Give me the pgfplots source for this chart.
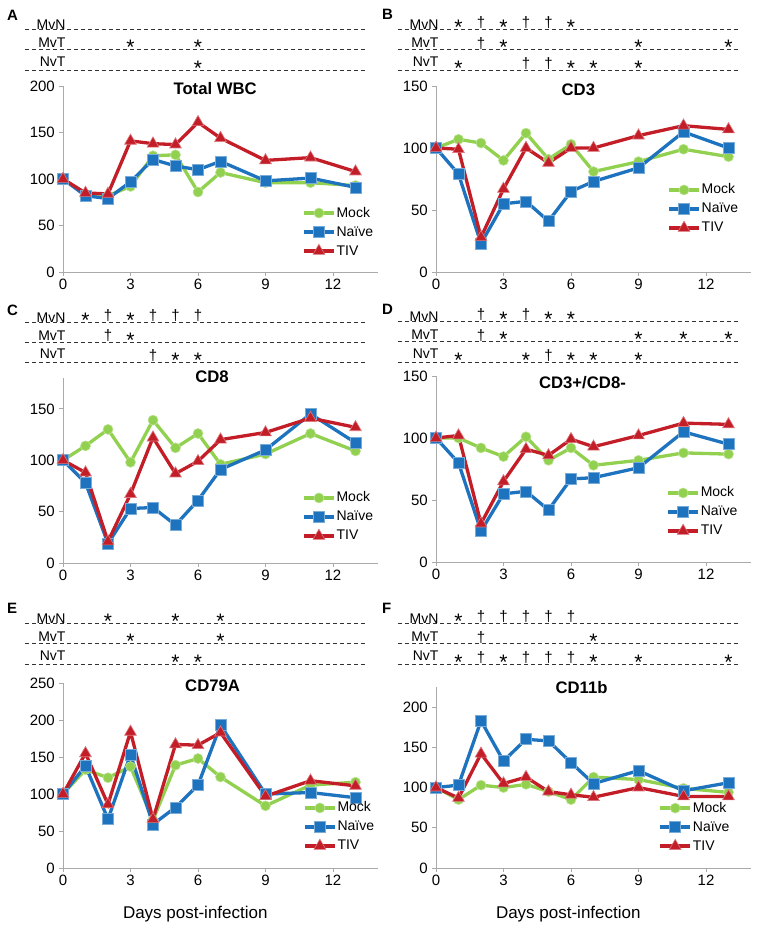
\documentclass[border=0pt]{standalone}
\usepackage{fontspec}
\setmainfont{Liberation Sans}
\usepackage{pgfplots}
\pgfplotsset{compat=1.18}
\usepackage{pgfplotstable}

\definecolor{cmock}{RGB}{146,208,80}
\definecolor{cnaive}{RGB}{30,115,190}
\definecolor{ctiv}{RGB}{195,30,40}
\definecolor{axgray}{RGB}{170,170,170}
\newcommand\fs[1]{\fontsize{#1bp}{#1bp}\selectfont}

\pgfplotstableread{
d m n t
0 100 100 100
1 84 82 85
2 82 79 84
3 92 97 141
4 125 121 138
5 126 114 137
6 86 110 161
7 107 119 144
9 96 98 120
11 96 101 123
13 93 91 108
}\tA
\pgfplotstableread{
d m n t
0 100 100 100
1 107 79 99
2 104 23 28
3 90 55 67
4 112 57 100
5 91 41 88
6 103 65 100
7 81 73 100
9 89 84 110
11 99 113 118
13 93 100 115
}\tB
\pgfplotstableread{
d m n t
0 100 100 100
1 114 78 88
2 130 19 21
3 98 53 67
4 139 54 122
5 112 37 87
6 126 61 99
7 96 91 120
9 106 110 127
11 126 145 141
13 109 117 132
}\tC
\pgfplotstableread{
d m n t
0 100 100 100
1 100 80 102
2 92 25 31
3 85 55 65
4 101 57 91
5 82 42 86
6 92 67 99
7 78 68 93
9 82 76 102
11 88 105 112
13 87 95 111
}\tD
\pgfplotstableread{
d m n t
0 100 100 100
1 133 138 155
2 122 66 86
3 137 153 184
4 65 59 66
5 139 82 167
6 148 112 166
7 123 193 183
9 84 100 97
11 112 102 118
13 116 95 111
}\tE
\pgfplotstableread{
d m n t
0 100 100 100
1 85 103 87
2 103 183 142
3 100 133 105
4 104 160 113
5 95 158 95
6 85 131 91
7 113 105 88
9 110 121 100
11 99 96 89
13 94 106 89
}\tF

\pgfplotsset{
 panel/.style={
  scale only axis, width=315bp, xmin=0, xmax=14, ymin=0,
  axis x line*=bottom, axis y line*=left,
  axis line style={draw=axgray, line width=0.9bp},
  tick style={draw=axgray, line width=0.9bp},
  tick align=outside, major tick length=4bp,
  xtick={0,3,6,9,12},
  tick label style={font=\fs{15}},
  /pgf/number format/assume math mode=true,
  xticklabel style={inner sep=0pt, anchor=north, yshift=-3bp},
  yticklabel style={inner sep=0pt, anchor=east, xshift=-4bp},
  title style={font=\fs{16.7}\bfseries, anchor=north, inner sep=0pt},
  legend style={draw=none, fill=none, inner sep=0pt, font=\fs{14}, anchor=west,
    row sep=5bp, cells={anchor=west}, nodes={inner sep=1bp, text height=10bp, text depth=2bp}},
  legend image code/.code={\draw[mark repeat=2, mark phase=2, ##1] plot coordinates {(0bp,0bp) (15bp,0bp) (30bp,0bp)};},
  clip=false,
 },
 mock/.style={cmock, line width=3.3bp, mark=*, mark size=5bp, mark options={solid, fill=cmock, draw=cmock!60!white, line width=0.6bp}},
 naive/.style={cnaive, line width=3.3bp, mark=square*, mark size=5.5bp, mark options={solid, fill=cnaive, draw=cnaive!60!white, line width=0.6bp}},
 tiv/.style={ctiv, line width=3.3bp, mark=triangle*, mark size=6.8bp, mark options={solid, fill=ctiv, draw=ctiv!60!white, line width=0.6bp}},
 xlab/.style={xlabel={Days post-infection}, xlabel style={font=\fs{17}, at={(axis description cs:0.42,0)}, anchor=base, inner sep=0pt, yshift=-50bp}},
 sig/.style={scale only axis, width=315bp, height=41bp, xmin=0, xmax=14, ymin=0, ymax=2, hide axis, clip=false},
 dline/.style={black!80, line width=1bp, dash pattern=on 4bp off 3bp, mark=none},
 ast/.style={only marks, mark=text, text mark={*}, text mark as node=true, text mark style={font=\fs{21}, inner sep=0pt}, black},
 dag/.style={only marks, mark=text, text mark={†}, text mark as node=true, text mark style={font=\fs{15}, inner sep=0pt}, black},
}

\newcommand\sigframe{%
  \addplot[dline] coordinates {(-1.7,0) (13.45,0)};
  \addplot[dline] coordinates {(-1.7,1) (13.45,1)};
  \addplot[dline] coordinates {(-1.7,2) (13.45,2)};
  \node[anchor=base east, font=\fs{14}, inner sep=0pt] at (axis cs:0.12,2) {MvN};
  \node[anchor=base east, font=\fs{14}, inner sep=0pt, yshift=2bp] at (axis cs:0.12,1) {MvT};
  \node[anchor=base east, font=\fs{14}, inner sep=0pt, yshift=4bp] at (axis cs:0.12,0) {NvT};
}
\newcommand\threeplots[1]{%
  \addplot[mock] table[x=d,y=m] {#1};
  \addplot[naive] table[x=d,y=n] {#1};
  \addplot[tiv] table[x=d,y=t] {#1};
  \legend{Mock,Naïve,TIV}
}

\begin{document}
\begin{tikzpicture}
\useasboundingbox (0bp,0bp) rectangle (758bp,-933bp);

% panel letters
\node[anchor=base west, font=\fs{15}\bfseries, inner sep=0pt] at (7bp,-20bp) {A};
\node[anchor=base west, font=\fs{15}\bfseries, inner sep=0pt] at (382bp,-19bp) {B};
\node[anchor=base west, font=\fs{15}\bfseries, inner sep=0pt] at (7bp,-315bp) {C};
\node[anchor=base west, font=\fs{15}\bfseries, inner sep=0pt] at (382bp,-314bp) {D};
\node[anchor=base west, font=\fs{15}\bfseries, inner sep=0pt] at (7bp,-613bp) {E};
\node[anchor=base west, font=\fs{15}\bfseries, inner sep=0pt] at (382bp,-613bp) {F};

% ---------- A ----------
\begin{axis}[sig, at={(63bp,-70bp)}, anchor=south west]
\sigframe
\addplot[ast] coordinates {(3,1.1) (6,1.1) (6,0.1)};
\end{axis}
\begin{axis}[panel, at={(63bp,-272bp)}, anchor=south west, height=186bp, ymax=200,
  ytick={0,50,100,150,200}, title={Total WBC}, title style={at={(0.483,1)}, yshift=-2bp},
  legend style={at={(0.759,0.215)}}]
\threeplots{\tA}
\end{axis}

% ---------- B ----------
\begin{axis}[sig, at={(436bp,-70bp)}, anchor=south west]
\sigframe
\addplot[ast] coordinates {(1,2.1) (3,2.1) (6,2.1) (3,1.1) (9,1.1) (13,1.1) (1,0.1) (6,0.1) (7,0.1) (9,0.1)};
\addplot[dag] coordinates {(2,2.3) (4,2.3) (5,2.3) (2,1.3) (4,0.3) (5,0.3)};
\end{axis}
\begin{axis}[panel, at={(436bp,-272bp)}, anchor=south west, height=186bp, ymax=150,
  ytick={0,50,100,150}, title={CD3}, title style={at={(0.452,1)}, yshift=-4bp},
  legend style={at={(0.734,0.339)}}]
\threeplots{\tB}
\end{axis}

% ---------- C ----------
\begin{axis}[sig, at={(63bp,-362bp)}, anchor=south west, height=40bp]
\sigframe
\addplot[ast] coordinates {(1,2.1) (3,2.1) (3,1.1) (5,0.1) (6,0.1)};
\addplot[dag] coordinates {(2,2.3) (4,2.3) (5,2.3) (6,2.3) (2,1.3) (4,0.3)};
\end{axis}
\begin{axis}[panel, at={(63bp,-563bp)}, anchor=south west, height=185bp, ymax=180,
  ytick={0,50,100,150}, title={CD8}, title style={at={(0.473,1)}, yshift=1bp},
  legend style={at={(0.759,0.249)}}]
\threeplots{\tC}
\end{axis}

% ---------- D ----------
\begin{axis}[sig, at={(436bp,-362bp)}, anchor=south west]
\sigframe
\addplot[ast] coordinates {(3,2.1) (5,2.1) (6,2.1) (3,1.1) (9,1.1) (11,1.1) (13,1.1) (1,0.1) (4,0.1) (6,0.1) (7,0.1) (9,0.1)};
\addplot[dag] coordinates {(2,2.3) (4,2.3) (2,1.3) (5,0.3)};
\end{axis}
\begin{axis}[panel, at={(436bp,-562bp)}, anchor=south west, height=186bp, ymax=150,
  ytick={0,50,100,150}, title={CD3+/CD8-}, title style={at={(0.465,1)}, yshift=-6bp},
  legend style={at={(0.731,0.269)}}]
\threeplots{\tD}
\end{axis}

% ---------- E ----------
\begin{axis}[sig, at={(63bp,-664bp)}, anchor=south west]
\sigframe
\addplot[ast] coordinates {(2,2.1) (5,2.1) (7,2.1) (3,1.1) (7,1.1) (5,0.1) (6,0.1)};
\end{axis}
\begin{axis}[panel, xlab, at={(63bp,-868bp)}, anchor=south west, height=185bp, ymax=250,
  ytick={0,50,100,150,200,250}, title={CD79A}, title style={at={(0.475,1)}, yshift=-3bp},
  legend style={at={(0.762,0.222)}}]
\threeplots{\tE}
\end{axis}

% ---------- F ----------
\begin{axis}[sig, at={(436bp,-664bp)}, anchor=south west]
\sigframe
\addplot[ast] coordinates {(1,2.1) (7,1.1) (1,0.1) (3,0.1) (7,0.1) (9,0.1) (13,0.1)};
\addplot[dag] coordinates {(2,2.3) (3,2.3) (4,2.3) (5,2.3) (6,2.3) (2,1.3) (2,0.3) (4,0.3) (5,0.3) (6,0.3)};
\end{axis}
\begin{axis}[panel, xlab, at={(436bp,-868bp)}, anchor=south west, height=181bp, ymax=225,
  ytick={0,50,100,150,200}, title={CD11b}, title style={at={(0.462,1)}, yshift=0bp},
  legend style={at={(0.706,0.226)}}]
\threeplots{\tF}
\end{axis}
\end{tikzpicture}
\end{document}
